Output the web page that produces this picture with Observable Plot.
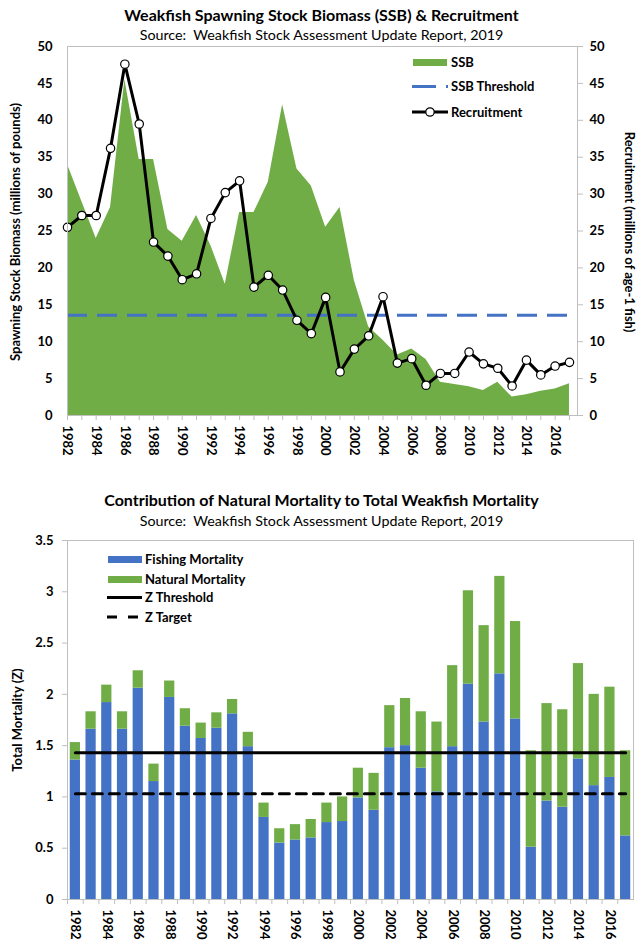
<!DOCTYPE html>
<html>
<head>
<meta charset="utf-8">
<script src="https://cdn.jsdelivr.net/npm/d3@7"></script>
<script src="https://cdn.jsdelivr.net/npm/@observablehq/plot@0.6"></script>
<style>
  html, body { margin: 0; padding: 0; background: #fff; }
  #root { position: relative; width: 643px; height: 946px; background: #fff; font-family: Lato, "Open Sans", sans-serif; color: #000; overflow: hidden; }
  .abs { position: absolute; white-space: nowrap; }
  .title { font-weight: bold; font-size: 16px; left: 0; width: 643px; text-align: center; }
  .sub { font-size: 14.3px; left: 0; width: 643px; text-align: center; }
  .rot { font-weight: bold; font-size: 13px; transform: translate(-50%, -50%) rotate(-90deg); }
  .rotR { font-weight: bold; font-size: 13px; transform: translate(-50%, -50%) rotate(90deg); }
  .leg { font-weight: bold; font-size: 13px; }
  svg text { font-family: Lato, "Open Sans", sans-serif; }
</style>
</head>
<body>
<div id="root">
  <div class="abs title" style="top:5px">Weakfish Spawning Stock Biomass (SSB) &amp; Recruitment</div>
  <div class="abs sub" style="top:26px">Source:&nbsp; Weakfish Stock Assessment Update Report, 2019</div>
  <div class="abs title" style="top:490px">Contribution of Natural Mortality to Total Weakfish Mortality</div>
  <div class="abs sub" style="top:512px">Source:&nbsp; Weakfish Stock Assessment Update Report, 2019</div>
  <div id="topChart" class="abs" style="left:0;top:0"></div>
  <div id="botChart" class="abs" style="left:0;top:480px"></div>
  <div class="abs rot" style="left:15px;top:232px">Spawning Stock Biomass (millions of pounds)</div>
  <div class="abs rotR" style="left:630px;top:232px">Recruitment (millions of age-1 fish)</div>
  <div class="abs rot" style="left:17px;top:720px">Total Mortality (Z)</div>
  <svg class="abs" style="left:0;top:0" width="643" height="946">
    <rect x="413" y="59" width="34" height="7" fill="#70ad47"></rect>
    <text x="451" y="62" dy="0.35em" class="leg">SSB</text>
    <line x1="412" x2="448" y1="86.5" y2="86.5" stroke="#4472c4" stroke-width="3" stroke-dasharray="24,10"></line>
    <text x="451" y="86.5" dy="0.35em" class="leg">SSB Threshold</text>
    <line x1="412" x2="448" y1="112" y2="112" stroke="#000" stroke-width="3"></line>
    <circle cx="430" cy="112" r="4.2" fill="#fff" stroke="#000" stroke-width="1.2"></circle>
    <text x="451" y="112" dy="0.35em" class="leg">Recruitment</text>

    <rect x="108" y="556" width="34" height="7" fill="#4472c4"></rect>
    <text x="145" y="559" dy="0.35em" class="leg">Fishing Mortality</text>
    <rect x="108" y="576" width="34" height="7" fill="#70ad47"></rect>
    <text x="145" y="579" dy="0.35em" class="leg">Natural Mortality</text>
    <line x1="107" x2="142" y1="597.5" y2="597.5" stroke="#000" stroke-width="3"></line>
    <text x="145" y="597.5" dy="0.35em" class="leg">Z Threshold</text>
    <line x1="107" x2="142" y1="617" y2="617" stroke="#000" stroke-width="3" stroke-dasharray="10,11"></line>
    <text x="145" y="617" dy="0.35em" class="leg">Z Target</text>
  </svg>
</div>
<script>
// ---------- data ----------
const years = [1982,1983,1984,1985,1986,1987,1988,1989,1990,1991,1992,1993,1994,1995,1996,1997,1998,1999,
               2000,2001,2002,2003,2004,2005,2006,2007,2008,2009,2010,2011,2012,2013,2014,2015,2016,2017];
const labelYears = [1982,1984,1986,1988,1990,1992,1994,1996,1998,2000,2002,2004,2006,2008,2010,2012,2014,2016];

// SSB (millions of pounds)
const ssb = [34.0,29.0,24.0,28.2,45.5,34.7,34.7,25.2,23.6,27.1,23.0,17.8,27.5,27.5,31.6,42.1,33.4,31.1,
             25.5,28.2,18.3,12.0,10.2,8.2,9.0,7.6,4.5,4.2,3.9,3.4,4.5,2.5,2.8,3.3,3.6,4.3];
// Recruitment (millions of age-1 fish)
const recruitment = [25.5,27.1,27.1,36.2,47.6,39.5,23.5,21.6,18.4,19.2,26.7,30.2,31.8,17.4,19.0,17.0,12.9,11.1,
                     16.0,5.9,9.0,10.8,16.1,7.1,7.7,4.1,5.7,5.7,8.6,7.0,6.4,4.0,7.5,5.5,6.7,7.2];
const ssbThreshold = 13.6;
const topTicks = [0,5,10,15,20,25,30,35,40,45,50];

// Mortality
const fishingMortality = [1.36,1.66,1.92,1.66,2.06,1.15,1.97,1.69,1.57,1.67,1.81,1.49,0.80,0.55,0.58,0.60,0.75,0.76,
                          0.99,0.87,1.48,1.50,1.28,1.05,1.49,2.10,1.73,2.20,1.76,0.51,0.96,0.90,1.37,1.11,1.19,0.62];
const naturalMortality = [0.17,0.17,0.17,0.17,0.17,0.17,0.16,0.17,0.15,0.15,0.14,0.14,0.14,0.14,0.15,0.18,0.19,0.24,
                          0.29,0.36,0.41,0.46,0.55,0.68,0.79,0.91,0.94,0.95,0.95,0.94,0.95,0.95,0.93,0.89,0.88,0.83];
const zThreshold = 1.43;
const zTarget = 1.03;
const botTicks = [0,0.5,1,1.5,2,2.5,3,3.5];

// ---------- top chart ----------
const topData = years.map((y, i) => ({year: y, ssb: ssb[i], rec: recruitment[i]}));
const axisStyle = {fontFamily: "Lato, 'Open Sans', sans-serif", fontSize: "13px", fontWeight: "bold", color: "#000", background: "transparent", overflow: "visible"};

const topPlot = Plot.plot({
  width: 643, height: 470,
  marginTop: 46, marginBottom: 55, marginLeft: 67, marginRight: 66,
  style: axisStyle,
  x: {domain: [1982, 2017.56]},
  y: {domain: [0, 50]},
  marks: [
    Plot.areaY(topData, {x: "year", y: "ssb", fill: "#70ad47"}),
    Plot.ruleY([ssbThreshold], {x1: years[0], x2: years[years.length - 1], stroke: "#4472c4", strokeWidth: 3, strokeDasharray: "20,10"}),
    Plot.line(topData, {x: "year", y: "rec", stroke: "#000", strokeWidth: 3}),
    Plot.dot(topData, {x: "year", y: "rec", r: 4.2, fill: "#fff", stroke: "#000", strokeWidth: 1.2}),
    Plot.frame({stroke: "#bfbfbf"}),
    Plot.axisY(topTicks, {anchor: "left", tickSize: 0, tickPadding: 15, label: null, fill: "#000"}),
    Plot.axisY(topTicks, {anchor: "right", tickSize: 5, tickPadding: 7, label: null, stroke: "#bfbfbf", fill: "#000"}),
    Plot.axisX(years, {anchor: "bottom", tickSize: 5, tickFormat: () => "", label: null, stroke: "#bfbfbf"}),
    Plot.axisX(labelYears, {anchor: "bottom", tickSize: 0, tickPadding: 10, tickRotate: 90, tickFormat: d => String(d), label: null, fill: "#000"})
  ]
});
document.getElementById("topChart").appendChild(topPlot);

// ---------- bottom chart ----------
const botData = [];
years.forEach((y, i) => {
  botData.push({year: y, type: "Fishing Mortality", value: fishingMortality[i]});
  botData.push({year: y, type: "Natural Mortality", value: naturalMortality[i]});
});
const zLines = years.map(y => ({year: y, thr: zThreshold, tgt: zTarget}));

const botPlot = Plot.plot({
  width: 643, height: 466,
  marginTop: 60, marginBottom: 47, marginLeft: 67, marginRight: 10,
  style: axisStyle,
  x: {type: "band", domain: years, paddingInner: 0.35, paddingOuter: 0.175, round: false},
  y: {domain: [0, 3.5]},
  color: {domain: ["Fishing Mortality", "Natural Mortality"], range: ["#4472c4", "#70ad47"]},
  marks: [
    Plot.barY(botData, {x: "year", y: "value", fill: "type"}),
    Plot.line(zLines, {x: "year", y: "thr", stroke: "#000", strokeWidth: 3}),
    Plot.line(zLines, {x: "year", y: "tgt", stroke: "#000", strokeWidth: 3, strokeDasharray: "10,7"}),
    Plot.frame({stroke: "#bfbfbf"}),
    Plot.axisY(botTicks, {anchor: "left", tickSize: 5, tickPadding: 9, label: null, stroke: "#bfbfbf", fill: "#000", tickFormat: d => String(d)}),
    Plot.axisX(years, {anchor: "bottom", tickSize: 5, tickFormat: () => "", label: null, stroke: "#bfbfbf", dx: -7.86}),
    Plot.axisX(labelYears, {anchor: "bottom", tickSize: 0, tickPadding: 10, tickRotate: 90, tickFormat: d => String(d), label: null, fill: "#000"})
  ]
});
document.getElementById("botChart").appendChild(botPlot);
</script>
</body>
</html>
